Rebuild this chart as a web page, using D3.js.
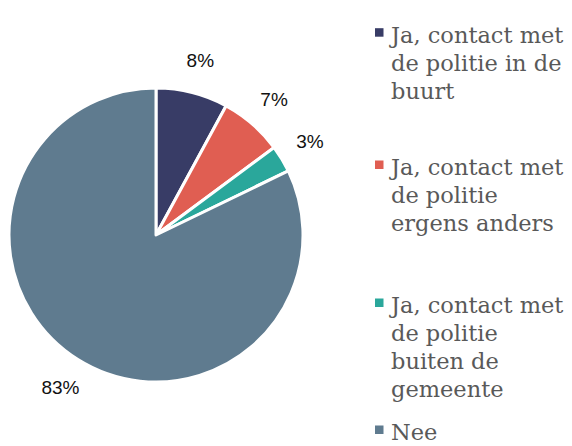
<!DOCTYPE html>
<html>
<head>
<meta charset="utf-8">
<script src="https://cdn.jsdelivr.net/npm/d3@7/dist/d3.min.js"></script>
<style>
  html, body { margin: 0; padding: 0; background: #fff; }
  svg { display: block; }
</style>
</head>
<body>
<svg id="chart" width="572" height="446"></svg>
<script>
// Contact met de politie (percentages)
const categories = [
  "Ja, contact met de politie in de buurt",
  "Ja, contact met de politie ergens anders",
  "Ja, contact met de politie buiten de gemeente",
  "Nee"
];
const values = [8, 7, 3, 83];
const valueLabels = ["8%", "7%", "3%", "83%"];
// legend text broken into lines as displayed
const legendLines = [
  ["Ja, contact met", "de politie in de", "buurt"],
  ["Ja, contact met", "de politie", "ergens anders"],
  ["Ja, contact met", "de politie", "buiten de", "gemeente"],
  ["Nee"]
];
const colors = ["#383c66", "#e05e52", "#2aa79b", "#5f7b8f"];

const svg = d3.select("#chart");
const cx = 156, cy = 235, radius = 147;

const pie = d3.pie().sort(null).value(d => d);
const arcs = pie(values);
const arc = d3.arc().innerRadius(0).outerRadius(radius);
const labelArc = d3.arc().innerRadius(180).outerRadius(180);

const g = svg.append("g").attr("transform", `translate(${cx},${cy})`);

g.selectAll("path.slice")
  .data(arcs)
  .join("path")
  .attr("class", "slice")
  .attr("d", arc)
  .attr("fill", (d, i) => colors[i])
  .attr("stroke", "#fff")
  .attr("stroke-width", 3)
  .attr("stroke-linejoin", "round");

g.selectAll("text.val")
  .data(arcs)
  .join("text")
  .attr("class", "val")
  .attr("transform", d => `translate(${labelArc.centroid(d)})`)
  .attr("text-anchor", "middle")
  .attr("dominant-baseline", "central")
  .attr("font-family", "Liberation Sans, Arial, sans-serif")
  .attr("font-size", 19)
  .attr("fill", "#111")
  .text((d, i) => valueLabels[i]);

// legend
const legendX = 375;
const legendTop = [42.7, 175, 313, 440];
const lineH = 28;
const leg = svg.append("g");
legendLines.forEach((lines, i) => {
  const item = leg.append("g").attr("transform", `translate(${legendX},${legendTop[i]})`);
  item.append("rect")
    .attr("x", 0).attr("y", -14.5)
    .attr("width", 8.5).attr("height", 8.5)
    .attr("fill", colors[i]);
  const t = item.append("text")
    .attr("x", 16)
    .attr("font-family", "DejaVu Serif, serif")
    .attr("font-size", 22.5)
    .attr("fill", "#595959");
  lines.forEach((ln, j) => {
    t.append("tspan").attr("x", 16).attr("y", j * lineH).text(ln);
  });
});
</script>
</body>
</html>
